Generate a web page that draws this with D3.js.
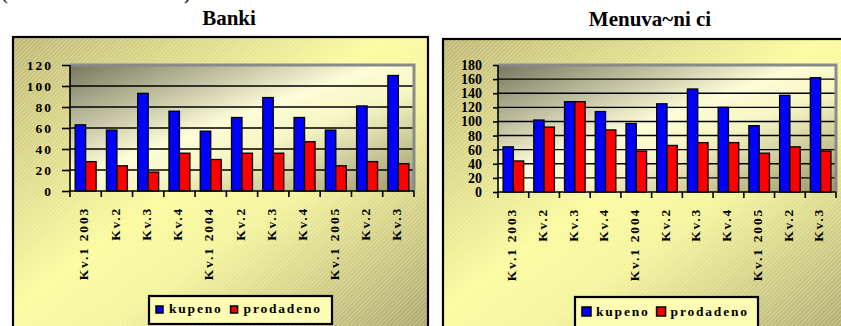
<!DOCTYPE html>
<html>
<head>
<meta charset="utf-8">
<script src="https://cdn.jsdelivr.net/npm/d3@7"></script>
<style>
  body { margin: 0; background: #fff; }
  svg { display: block; }
</style>
</head>
<body>
<script>
// data
var categories = ["Kv.1 2003","Kv.2","Kv.3","Kv.4","Kv.1 2004","Kv.2","Kv.3","Kv.4","Kv.1 2005","Kv.2","Kv.3"];
var series = ["kupeno", "prodadeno"];
var bankiKupeno    = [63, 58, 93, 76, 57, 70, 89, 70, 58, 81, 110];
var bankiProdadeno = [28, 24, 18, 36, 30, 36, 36, 47, 24, 28, 26];
var menKupeno      = [64, 102, 128, 114, 97, 125, 146, 120, 94, 137, 162];
var menProdadeno   = [44, 92, 128, 88, 58, 66, 70, 70, 55, 64, 58];
var bankiTicks = [0, 20, 40, 60, 80, 100, 120];
var menTicks   = [0, 20, 40, 60, 80, 100, 120, 140, 160, 180];

var colors = { "kupeno": "#0000ff", "prodadeno": "#ff0000" };
var font = "'Liberation Serif', 'Times New Roman', Times, serif";

var svg = d3.select("body").append("svg")
  .attr("width", 841).attr("height", 326);

var defs = svg.append("defs");

var outerGrad = defs.append("linearGradient").attr("id", "outerGrad")
  .attr("x1", 0).attr("y1", 0).attr("x2", 1).attr("y2", 1);
outerGrad.append("stop").attr("offset", "0%").attr("stop-color", "#bdb672");
outerGrad.append("stop").attr("offset", "45%").attr("stop-color", "#fbfb9c");
outerGrad.append("stop").attr("offset", "60%").attr("stop-color", "#f4f49a");
outerGrad.append("stop").attr("offset", "100%").attr("stop-color", "#a9a36a");

var plotGrad = defs.append("linearGradient").attr("id", "plotGrad")
  .attr("x1", 0).attr("y1", 0).attr("x2", 1).attr("y2", 1);
plotGrad.append("stop").attr("offset", "0%").attr("stop-color", "#77775f");
plotGrad.append("stop").attr("offset", "45%").attr("stop-color", "#fdfdd8");
plotGrad.append("stop").attr("offset", "60%").attr("stop-color", "#f6f6c4");
plotGrad.append("stop").attr("offset", "100%").attr("stop-color", "#9c9868");

defs.append("pattern").attr("id", "hatch")
  .attr("width", 3).attr("height", 3)
  .attr("patternUnits", "userSpaceOnUse")
  .attr("patternTransform", "rotate(45)")
  .append("rect")
  .attr("width", 1).attr("height", 3)
  .attr("fill", "#ffffff").attr("opacity", 0.28);

// cut-off text at the very top, only its lowest strokes show
svg.append("text")
  .attr("x", 1).attr("y", -1)
  .attr("font-family", font).attr("font-size", 21)
  .attr("textLength", 190).attr("lengthAdjust", "spacing")
  .text("(vo milioni denari)");

function drawChart(cfg) {
  var g = svg.append("g");

  // outer chart area
  g.append("rect")
    .attr("x", cfg.box.x).attr("y", cfg.box.y)
    .attr("width", cfg.box.w).attr("height", cfg.box.h)
    .attr("fill", "url(#outerGrad)");
  g.append("rect")
    .attr("x", cfg.box.x).attr("y", cfg.box.y)
    .attr("width", cfg.box.w).attr("height", cfg.box.h)
    .attr("fill", "url(#hatch)");
  g.append("rect")
    .attr("x", cfg.box.x).attr("y", cfg.box.y)
    .attr("width", cfg.box.w).attr("height", cfg.box.h)
    .attr("fill", "none").attr("stroke", "#000").attr("stroke-width", 2.2);

  // title
  g.append("text")
    .attr("x", cfg.titleX).attr("y", cfg.titleY)
    .attr("text-anchor", "middle")
    .attr("font-family", font).attr("font-size", 21).attr("font-weight", "bold")
    .text(cfg.title);

  var y = d3.scaleLinear().domain([0, cfg.yMax]).range([cfg.plot.y1, cfg.plot.y0]);
  var xCat = d3.scaleBand().domain(d3.range(categories.length))
    .range([cfg.plot.x0, cfg.plot.x1]).padding(0);
  var xGrp = d3.scaleBand().domain(d3.range(categories.length))
    .range([cfg.plot.x0, cfg.plot.x1]).paddingInner(0.33).paddingOuter(0.165);
  var xSer = d3.scaleBand().domain(series).range([0, xGrp.bandwidth()]);

  // plot area
  var pw = cfg.plot.x1 - cfg.plot.x0, ph = cfg.plot.y1 - cfg.plot.y0;
  g.append("rect")
    .attr("x", cfg.plot.x0).attr("y", cfg.plot.y0)
    .attr("width", pw).attr("height", ph)
    .attr("fill", "url(#plotGrad)");
  g.append("path")
    .attr("d", "M" + cfg.plot.x0 + "," + cfg.plot.y0 + "H" + cfg.plot.x1 + "V" + cfg.plot.y1)
    .attr("fill", "none").attr("stroke", "#8a8a8a").attr("stroke-width", 3);

  // gridlines
  g.selectAll("line.grid")
    .data(cfg.ticks.filter(function(t) { return t > 0 && t < cfg.yMax; }))
    .enter().append("line")
    .attr("class", "grid")
    .attr("x1", cfg.plot.x0).attr("x2", cfg.plot.x1 - 1.5)
    .attr("y1", function(d) { return y(d); }).attr("y2", function(d) { return y(d); })
    .attr("stroke", "#000").attr("stroke-width", 1.4);

  // bars
  var rows = categories.map(function(c, i) {
    return { i: i, kupeno: cfg.kupeno[i], prodadeno: cfg.prodadeno[i] };
  });
  var grp = g.selectAll("g.cat").data(rows).enter().append("g")
    .attr("class", "cat")
    .attr("transform", function(d) { return "translate(" + xGrp(d.i) + ",0)"; });
  grp.selectAll("rect")
    .data(function(d) { return series.map(function(s) { return { s: s, v: d[s] }; }); })
    .enter().append("rect")
    .attr("x", function(d) { return xSer(d.s); })
    .attr("y", function(d) { return y(d.v); })
    .attr("width", xSer.bandwidth())
    .attr("height", function(d) { return y(0) - y(d.v); })
    .attr("fill", function(d) { return colors[d.s]; })
    .attr("stroke", "#000").attr("stroke-width", 1.3);

  // y axis
  var yAxis = d3.axisLeft(y).tickValues(cfg.ticks)
    .tickSize(cfg.tickLen).tickPadding(cfg.tickPad);
  var ya = g.append("g")
    .attr("transform", "translate(" + cfg.plot.x0 + ",0)")
    .call(yAxis);
  ya.select(".domain").attr("stroke", "#000").attr("stroke-width", 1.6)
    .attr("d", "M0," + cfg.plot.y0 + "V" + cfg.plot.y1);
  ya.selectAll(".tick line").attr("stroke", "#000").attr("stroke-width", 1.6);
  ya.selectAll(".tick text")
    .attr("font-family", font).attr("font-size", cfg.yFont).attr("font-weight", "bold")
    .attr("letter-spacing", cfg.ySpacing).attr("fill", "#000");

  // x axis with ticks at category boundaries
  var xa = g.append("g");
  xa.append("line")
    .attr("x1", cfg.plot.x0).attr("x2", cfg.plot.x1)
    .attr("y1", y(0)).attr("y2", y(0))
    .attr("stroke", "#000").attr("stroke-width", 1.6);
  xa.selectAll("line.xt")
    .data(d3.range(categories.length + 1))
    .enter().append("line")
    .attr("class", "xt")
    .attr("x1", function(d) { return cfg.plot.x0 + d * xCat.step(); })
    .attr("x2", function(d) { return cfg.plot.x0 + d * xCat.step(); })
    .attr("y1", y(0)).attr("y2", y(0) + 6)
    .attr("stroke", "#000").attr("stroke-width", 1.6);
  xa.selectAll("text")
    .data(categories)
    .enter().append("text")
    .attr("transform", function(d, i) {
      return "translate(" + (xCat(i) + xCat.bandwidth() / 2 - 2) + "," + (y(0) + 16) + ") rotate(-90)";
    })
    .attr("text-anchor", "end")
    .attr("dy", "0.35em")
    .attr("font-family", font).attr("font-size", 13.5).attr("font-weight", "bold")
    .attr("letter-spacing", 1.8)
    .text(function(d) { return d; });

  // legend
  var lg = g.append("g");
  lg.append("rect")
    .attr("x", cfg.legend.x).attr("y", cfg.legend.y)
    .attr("width", cfg.legend.w).attr("height", cfg.legend.h)
    .attr("fill", "#fdfdb4").attr("stroke", "#000").attr("stroke-width", 2.2);
  var lx = cfg.legend.x + cfg.legend.pad;
  series.forEach(function(s) {
    lg.append("rect")
      .attr("x", lx).attr("y", cfg.legend.ty - cfg.legend.sq)
      .attr("width", cfg.legend.sq).attr("height", cfg.legend.sq)
      .attr("fill", colors[s]).attr("stroke", "#000").attr("stroke-width", 1.5);
    lx += cfg.legend.sq + cfg.legend.gap;
    var t = lg.append("text")
      .attr("x", lx).attr("y", cfg.legend.ty)
      .attr("font-family", font).attr("font-size", 13.5).attr("font-weight", "bold")
      .attr("letter-spacing", 1.8)
      .text(s);
    lx += t.node().getComputedTextLength() + cfg.legend.gap2;
  });
}

drawChart({
  title: "Banki", titleX: 229, titleY: 25,
  box: { x: 13, y: 37, w: 415, h: 300 },
  plot: { x0: 70, x1: 414, y0: 65, y1: 191 },
  yMax: 120, ticks: bankiTicks,
  tickLen: 8, tickPad: 9, yFont: 13.5, ySpacing: 2,
  kupeno: bankiKupeno, prodadeno: bankiProdadeno,
  legend: { x: 149, y: 296, w: 183, h: 28, pad: 7, sq: 7, gap: 6, gap2: 8, ty: 313 }
});

drawChart({
  title: "Menuva~ni ci", titleX: 650, titleY: 26,
  box: { x: 443, y: 39, w: 420, h: 300 },
  plot: { x0: 498, x1: 836, y0: 65, y1: 192 },
  yMax: 180, ticks: menTicks,
  tickLen: 5, tickPad: 11, yFont: 14, ySpacing: 0,
  kupeno: menKupeno, prodadeno: menProdadeno,
  legend: { x: 575, y: 297, w: 183, h: 34, pad: 7, sq: 9, gap: 5, gap2: 7, ty: 316 }
});
</script>
</body>
</html>
